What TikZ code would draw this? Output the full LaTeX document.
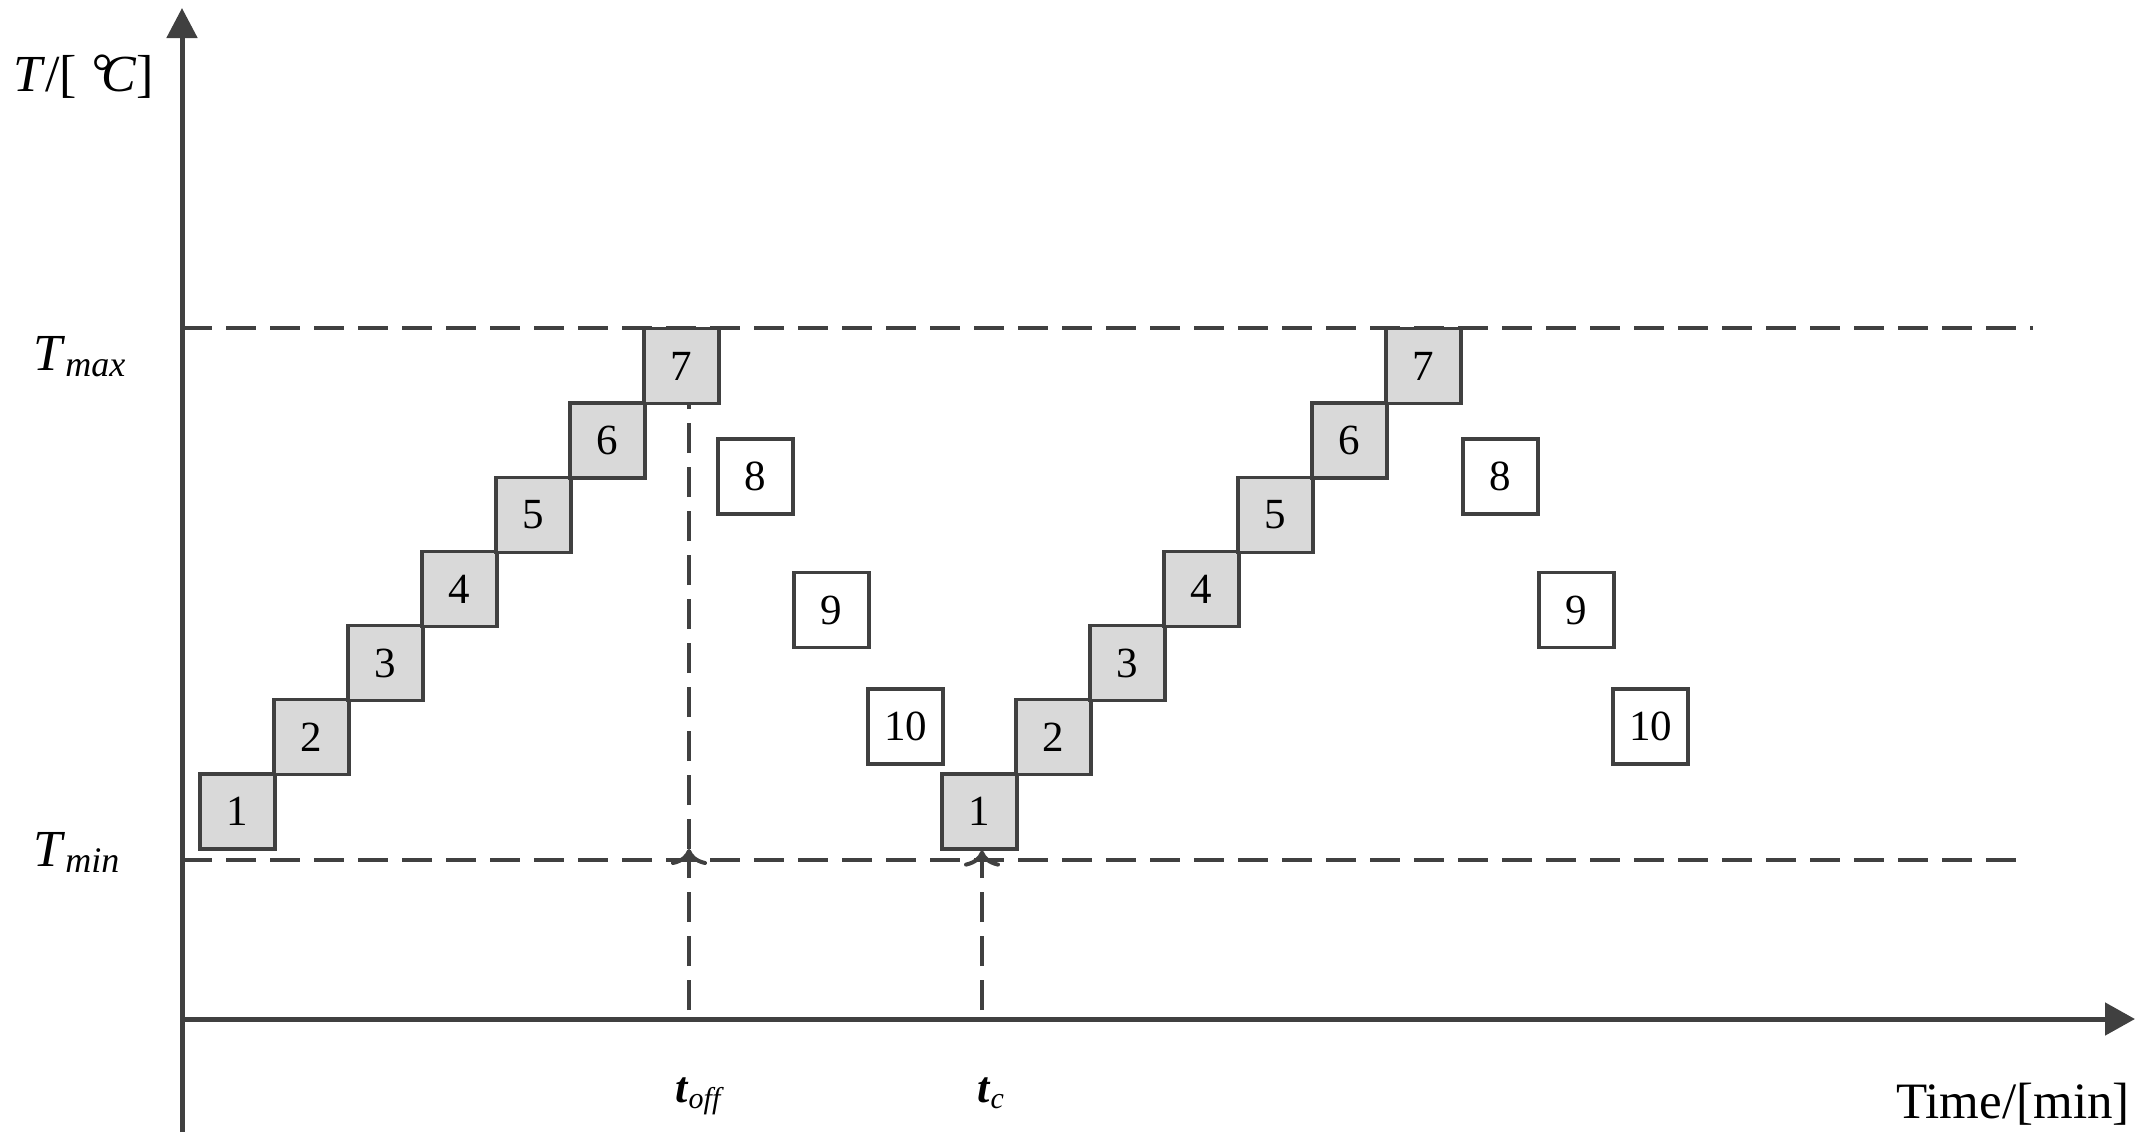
\documentclass[tikz,border=0pt]{standalone}
\usepackage{fontspec}
\setmainfont{Liberation Serif}
\usetikzlibrary{arrows.meta}
\definecolor{linec}{HTML}{404040}
\definecolor{cellfill}{HTML}{D9D9D9}
\begin{document}
\begin{tikzpicture}[x=0.5pt,y=-0.5pt,
  axisline/.style={draw=linec,line width=2.5pt},
  guide/.style={draw=linec,line width=2pt,dash pattern=on 15pt off 7pt},
  tipline/.style={draw=linec,line width=2pt,-{Computer Modern Rightarrow[length=8pt,width=18pt,line width=2pt]}},
  cell/.style={draw=linec,line width=1.6pt,minimum size=37.5pt,inner sep=0pt,font=\fontsize{21.5}{21.5}\selectfont},
  hot/.style={cell,fill=cellfill},
  cool/.style={cell,fill=white},
  lbl/.style={inner sep=0pt,text=black}
]
\useasboundingbox (0,0) rectangle (2149,1147);
% coordinates
\coordinate (O) at (182,1019);
\coordinate (ytop) at (182,8);
\coordinate (ybot) at (182,1132);
\coordinate (xend) at (2135,1019);
\coordinate (tmaxL) at (182,328);
\coordinate (tmaxR) at (2033,328);
\coordinate (tminL) at (182,860);
\coordinate (tminR) at (2022,860);
\coordinate (toffB) at (689,1010);
\coordinate (toffM) at (689,849);
\coordinate (toffS) at (689,872);
\coordinate (tcB) at (982,1010);
\coordinate (tcS) at (982,872);
% guide lines
\draw[guide] (tmaxL) -- (tmaxR);
\draw[guide] (tminL) -- (tminR);
% cells, first cycle
\foreach \k in {1,...,7}{
  \node[hot] (a\k) at ({237.5+74*(\k-1)},{811.5-74.2*(\k-1)}) {\k};
}
\node[cool] (a8) at (755.5,476.5) {8};
\node[cool] (a9) at (831.5,610) {9};
\node[cool] (a10) at (905.5,726.5) {10};
% cells, second cycle
\foreach \k in {1,...,7}{
  \node[hot] (b\k) at ({979.5+74*(\k-1)},{811.5-74.2*(\k-1)}) {\k};
}
\node[cool] (b8) at (1500.5,476.5) {8};
\node[cool] (b9) at (1576.5,610) {9};
\node[cool] (b10) at (1650.5,726.5) {10};
% time markers
\draw[guide] (toffB) -- (toffS);
\draw[tipline] (toffS) -- (toffM);
\draw[guide] (toffM) -- (toffM |- a7.south);
\draw[guide] (tcB) -- (tcS);
\draw[tipline] (tcS) -- (tcS |- b1.south);
% axes
\draw[axisline,-{Triangle[length=15pt,width=15pt]}] (ybot) -- (ytop);
\draw[axisline,-{Triangle[length=15pt,width=16pt]}] (O) -- (xend);
% labels
\node[lbl,anchor=base west] (ylab) at (13,91) {\fontsize{26}{26}\selectfont\textit{T}/[ \textit{\raisebox{1pt}{°}\kern-0.18em C}]};
\node[lbl,anchor=base west] (tmaxlab) at (33,370) {\fontsize{26}{26}\selectfont\textit{T}\raisebox{-3pt}{\fontsize{18}{18}\selectfont\textit{max}}};
\node[lbl,anchor=base west] (tminlab) at (33,866) {\fontsize{26}{26}\selectfont\textit{T}\raisebox{-3pt}{\fontsize{18}{18}\selectfont\textit{min}}};
\node[lbl,anchor=base west] (tofflab) at (675,1102) {\fontsize{22}{22}\selectfont\textbf{\textit{t}}\raisebox{-3pt}{\fontsize{15}{15}\selectfont\textit{off}}};
\node[lbl,anchor=base west] (tclab) at (977,1102) {\fontsize{22}{22}\selectfont\textbf{\textit{t}}\raisebox{-3pt}{\fontsize{15}{15}\selectfont\textit{c}}};
\node[lbl,anchor=base east] (xlab) at (2130,1118) {\fontsize{25.5}{25.5}\selectfont Time/[min]};
\end{tikzpicture}
\end{document}
